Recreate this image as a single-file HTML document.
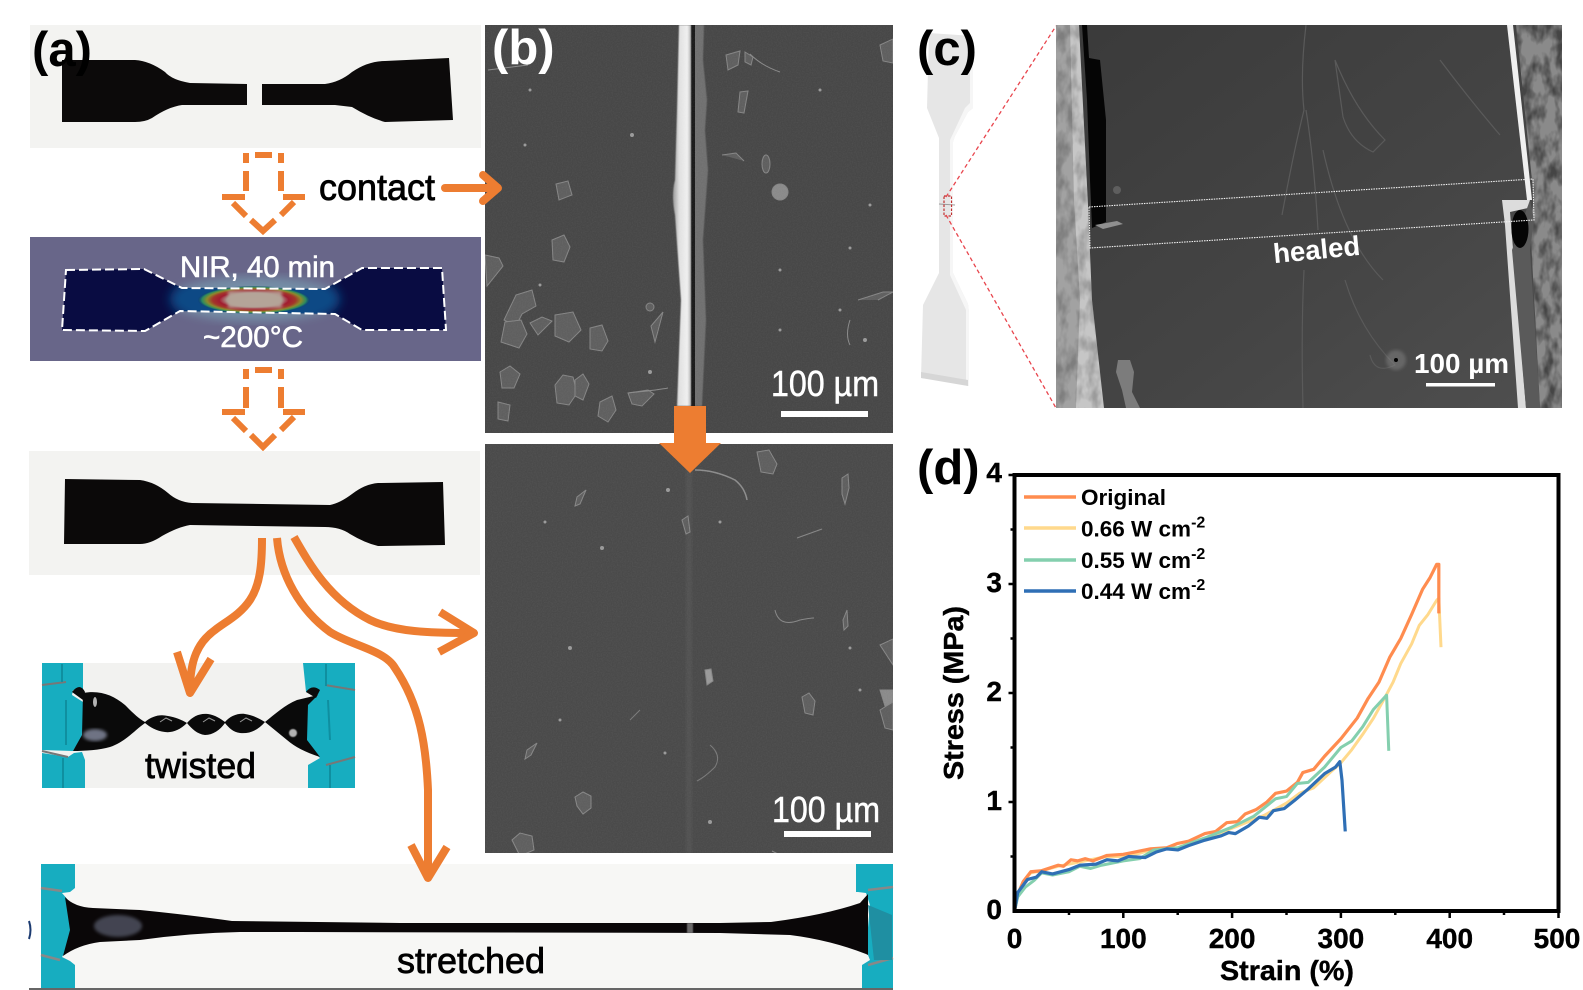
<!DOCTYPE html>
<html><head><meta charset="utf-8"><style>
html,body{margin:0;padding:0;background:#fff;width:1583px;height:990px;overflow:hidden}
svg{display:block}
text{font-family:"Liberation Sans",sans-serif}
</style></head><body>
<svg xmlns="http://www.w3.org/2000/svg" width="1583" height="990" viewBox="0 0 1583 990">
<defs>
<filter id="noise" x="0" y="0" width="100%" height="100%"><feTurbulence type="fractalNoise" baseFrequency="0.8" numOctaves="2" seed="4"/><feColorMatrix values="0 0 0 0 1  0 0 0 0 1  0 0 0 0 1  0.5 0 0 0 -0.17"/></filter>
<filter id="rough" x="0" y="0" width="100%" height="100%"><feTurbulence type="fractalNoise" baseFrequency="0.09 0.05" numOctaves="3" seed="9"/><feColorMatrix values="0 0 0 0 0  0 0 0 0 0  0 0 0 0 0  2.6 0 0 0 -1"/></filter>
<filter id="b1"><feGaussianBlur stdDeviation="0.5"/></filter>
<filter id="b2"><feGaussianBlur stdDeviation="1.5"/></filter>
<filter id="b5"><feGaussianBlur stdDeviation="5"/></filter>
<linearGradient id="strip" x1="0" x2="1" y1="0" y2="0"><stop offset="0" stop-color="#9a9a9a"/><stop offset=".35" stop-color="#e0e0e0"/><stop offset=".8" stop-color="#f0f0f0"/><stop offset="1" stop-color="#b0b0b0"/></linearGradient>
<linearGradient id="semc" x1="0" x2="1" y1="0" y2="1"><stop offset="0" stop-color="#3a3a3a"/><stop offset=".6" stop-color="#454545"/><stop offset="1" stop-color="#4f4f4f"/></linearGradient>
<radialGradient id="heat"><stop offset="0" stop-color="#b8a598"/><stop offset=".48" stop-color="#ad9a90"/><stop offset=".62" stop-color="#a21c30"/><stop offset=".74" stop-color="#a3352a"/><stop offset=".84" stop-color="#8c8a2c"/><stop offset=".93" stop-color="#2b8a60"/><stop offset="1" stop-color="#0b3a70" stop-opacity=".3"/></radialGradient>
<clipPath id="cb1"><rect x="485" y="25" width="408" height="408"/></clipPath>
<clipPath id="cb2"><rect x="485" y="444" width="408" height="409"/></clipPath>
<clipPath id="cc"><rect x="1056" y="25" width="506" height="383"/></clipPath>
<clipPath id="cheat"><rect x="30" y="237" width="451" height="124"/></clipPath>
<clipPath id="cls"><path d="M1056 25H1079L1088 205L1092 300L1104 408H1056Z"/></clipPath>
<clipPath id="crs"><path d="M1516 25H1562V408H1540L1530 220L1534 200Z"/></clipPath>
<clipPath id="cbody"><path d="M66 270L144 269L182 288L325 289L362 268L442 268L446 330L362 330L335 314L180 311L145 331L62 330Z"/></clipPath>
</defs>
<rect width="1583" height="990" fill="#fff"/>

<!-- a1 -->
<rect x="30" y="25" width="451" height="123" fill="#f3f3f1"/>
<path d="M62 60 L135 60 Q150 61 165 72 Q172 80 190 83 L247 84 L247 105 L182 105 Q168 107 152 118 Q145 122 135 122 L62 122 Z" fill="#0c0a0a"/>
<path d="M262 84 L325 84 Q340 82 352 72 Q368 61 385 61 L449 58 L453 120 L385 122 Q370 118 352 107 L335 105 L262 105 Z" fill="#0c0a0a"/>

<!-- dashed arrows -->
<g fill="none" stroke="#ed7d31" stroke-width="6">
<path d="M246 153V163M246 171V191M281 153V163M281 171V191M255 155H272"/>
<path d="M222 197H245M283 197H305M233 203L246 216M251 220L263 231L275 220M281 215L294 202"/>
<path d="M246 369V379M246 387V408M281 369V379M281 387V408M255 370H272"/>
<path d="M222 412H245M283 412H305M233 418L246 431M251 435L263 447L275 435M281 430L294 417"/>
</g>

<!-- contact -->
<text x="319" y="200" font-size="37" stroke="#000" stroke-width=".8" textLength="116" lengthAdjust="spacingAndGlyphs">contact</text>

<!-- heat -->
<rect x="30" y="237" width="451" height="124" fill="#686689"/>
<g clip-path="url(#cheat)">
<ellipse cx="255" cy="299" rx="85" ry="22" fill="#7fb0c0" opacity=".55" filter="url(#b5)"/>
<path d="M66 270L144 269L182 288L325 289L362 268L442 268L446 330L362 330L335 314L180 311L145 331L62 330Z" fill="#090c42"/>
<g clip-path="url(#cbody)"><ellipse cx="255" cy="299" rx="85" ry="30" fill="#0f4a85" filter="url(#b5)"/></g>
<ellipse cx="254" cy="300" rx="56" ry="14" fill="url(#heat)"/>
<rect x="228" y="291" width="54" height="17" fill="#b5a599" opacity=".9" filter="url(#b2)"/>
<path d="M66 270L144 269L182 288L325 289L362 268L442 268L446 330L362 330L335 314L180 311L145 331L62 330Z" fill="none" stroke="#fff" stroke-width="2" stroke-dasharray="9 4"/>
</g>
<text x="180" y="277" font-size="29.5" fill="#fff" stroke="#fff" stroke-width=".6" textLength="155" lengthAdjust="spacingAndGlyphs">NIR, 40 min</text>
<text x="203" y="347" font-size="29.5" fill="#fff" stroke="#fff" stroke-width=".6" textLength="100" lengthAdjust="spacingAndGlyphs">~200°C</text>

<!-- a3 -->
<rect x="29" y="451" width="451" height="124" fill="#f3f3f1"/>
<path d="M65 479 L140 480 Q155 482 168 493 Q178 502 192 503 L330 505 Q340 503 352 494 Q365 484 378 483 L443 482 L445 545 L378 546 Q365 543 350 534 Q340 527 325 527 L190 525 Q178 527 162 536 Q150 544 140 544 L64 544 Z" fill="#0b0909"/>

<!-- twisted -->
<rect x="42" y="663" width="313" height="125" fill="#f2f2f0"/>
<path d="M42 663H83V692L73 690L72 695L83 702V735L73 751L42 750Z" fill="#17adc0"/>
<path d="M42 753L68 757L74 753L82 752L85 760V788H42Z" fill="#17adc0"/>
<path d="M303 663H355V788H308V765L320 758L306 745L307 705L318 695L306 692Z" fill="#17adc0"/>
<path d="M42 685L66 682M42 751L68 757M355 690L325 685M355 757L326 765" stroke="#777" stroke-width="2"/>
<path d="M62 664V682M66 700V745M326 664V686M328 700L330 740M63 758V788M330 765V788" stroke="#0f8fa0" stroke-width="2" fill="none"/>
<path d="M72 692 Q80 682 85 692 L83 700Z M306 692 Q312 684 320 690L316 698Z" fill="#0b0b0b"/>
<path d="M83 693 C100 690 113 695 125 705 C133 713 138 718 145 722 C152 716 160 714 168 716 C175 717 182 720 187 723 C193 716 200 713 208 714 C215 715 221 719 225 722 C230 716 238 713 245 714 C253 715 260 719 265 722 C275 714 285 705 297 700 L318 695 L308 705 L307 740 L320 757 C305 752 295 747 287 740 L265 722 C258 730 250 734 240 733 C233 732 229 728 225 723 C220 730 213 735 205 735 C197 734 192 729 187 723 C180 730 172 733 165 732 C156 731 150 727 145 723 C135 730 125 742 110 747 C100 750 85 751 73 751 L82 735Z" fill="#0a0a0a"/>
<ellipse cx="95" cy="735" rx="12" ry="6" fill="#9aa0b8" opacity=".7" filter="url(#b2)"/>
<ellipse cx="95" cy="702" rx="2" ry="5" fill="#ddd" opacity=".8"/>
<ellipse cx="293" cy="733" rx="4" ry="4" fill="#ddd" opacity=".8" filter="url(#b1)"/>
<path d="M160 722l6-4 6 3M203 722l6-4 6 3M240 722l6-4 6 3" stroke="#999" fill="none"/>
<text x="145" y="778" font-size="36" stroke="#000" stroke-width=".8" textLength="111" lengthAdjust="spacingAndGlyphs">twisted</text>

<!-- stretched -->
<rect x="41" y="864" width="852" height="124" fill="#f7f7f5"/>
<path d="M41 864H75V888L70 892L62 893L68 900L72 920L70 945L62 957L70 961L75 965V988H41Z" fill="#17adc0"/>
<path d="M856 864H893V988H862V965L870 960L866 950L870 905L866 893L858 892H856Z" fill="#17adc0"/>
<path d="M41 888L62 891M41 955L60 960M893 887L868 890M893 958L868 965" stroke="#888" stroke-width="2.5"/>
<path d="M65 897 Q74 907 93 908 L140 910 Q190 915 232 921 L400 923 L720 923 L771 922 Q825 915 860 903 L868 894 L868 955 L866 954 Q830 940 790 935 L720 933 L300 932 L240 932 Q190 933 140 940 L100 942 Q78 945 63 956 L70 930Z" fill="#0a0708"/>
<ellipse cx="118" cy="926" rx="24" ry="11" fill="#7c829a" opacity=".5" filter="url(#b2)"/>
<rect x="687" y="923" width="6" height="10" fill="#aaa" opacity=".6" filter="url(#b1)"/>
<path d="M868 905L892 915V960H874Z" fill="#1f8fa2"/>
<text x="397" y="973" font-size="36" stroke="#000" stroke-width=".8" textLength="148" lengthAdjust="spacingAndGlyphs">stretched</text>
<rect x="29" y="988" width="864" height="2" fill="#666"/>
<path d="M29 921Q32 930 29 939" stroke="#1b3a70" stroke-width="2" fill="none"/>

<!-- curved arrows -->
<g fill="none" stroke="#ed7d31" stroke-width="8">
<path d="M262 538 C262 565 260 585 250 600 C240 615 225 622 215 630 C198 642 190 660 190 690"/>
<path d="M177 652L190 693L211 659" stroke-linejoin="round"/>
<path d="M277 538 C280 575 300 610 330 632 C350 645 385 650 395 668 C420 705 426 745 428 790 L428 875"/>
<path d="M411 845L428 878L447 847" stroke-linejoin="round"/>
<path d="M294 537 C310 565 330 600 370 620 C395 632 430 633 470 633"/>
<path d="M440 612L474 633L439 652" stroke-linejoin="round"/>
</g>

<!-- b1 -->
<rect x="485" y="25" width="408" height="408" fill="#474747"/>
<g clip-path="url(#cb1)">
<path d="M692 25 L704 25 L703 60 L707 100 L705 130 L708 170 L703 240 L706 320 L702 406 H692Z" fill="#707070" filter="url(#b1)"/>
<path d="M691 25H695V406H691Z" fill="#1a1a1a"/>
<path d="M679 25 H691 V406 H677 L681 300 L675 215 Q671 195 675 180 L677 110Z" fill="url(#strip)" filter="url(#b1)"/>
<g fill="#5f5f5f" stroke="#858585" stroke-width="1">
<path d="M726 55 L740 51 L738 65 L728 70Z"/><path d="M745 52l8 5 -2 8 -6-3z"/><path d="M740 92l8-1-4 22-6-1z"/>
<ellipse cx="766" cy="164" rx="4" ry="9"/><ellipse cx="780" cy="192" rx="8" ry="8" fill="#8a8a8a"/>
<path d="M880 45l13-6v24l-10-2z"/><path d="M556 184l12-3 4 14-13 5z"/><path d="M552 240l12-5 6 12-6 15-11-2z"/>
<path d="M485 255l14 3 4 8-16 20z"/><path d="M516 295l16-5 4 16-14 8-6 12-12-6z"/><path d="M505 322l16-2 6 14-8 14-18-6z"/><path d="M530 323l12-6 10 4-14 14z"/>
<path d="M555 315l18-3 8 18-12 12-14-6z"/><path d="M590 328l12-3 6 16-6 10-12-2z"/><ellipse cx="650" cy="307" rx="4" ry="4"/>
<path d="M655 342l8-30-12 14z"/><path d="M500 372l10-6 10 8-6 14h-12z"/><path d="M555 385l8-10 10 2 4 16-8 12-12-2z"/>
<path d="M575 380l8-6 6 10-6 16-8-4z"/><path d="M600 402l12-6 4 14-8 12-10-6z"/><path d="M498 402l12 3 -2 16-10-2z"/>
<path d="M628 393l20-3 6 4-12 12-10-2z"/><path d="M722 155l14-2 8 8"/><path d="M858 300l25-8 10 0-15 8"/>
</g>
<path d="M750 54q12 12 30 18M850 345q-5-10 0-25M488 70l40 -5M628 393q30-3 40-5" stroke="#8a8a8a" fill="none"/>
<g fill="#9a9a9a"><circle cx="632" cy="135" r="2"/><circle cx="525" cy="145" r="1.5"/><circle cx="850" cy="248" r="1.5"/><circle cx="780" cy="270" r="1.5"/><circle cx="840" cy="310" r="1.5"/><circle cx="865" cy="340" r="2"/><circle cx="820" cy="90" r="1.5"/><circle cx="530" cy="90" r="1.5"/><circle cx="650" cy="372" r="2"/><circle cx="780" cy="330" r="1.5"/><circle cx="870" cy="205" r="1.5"/><circle cx="540" cy="285" r="1.5"/></g>
</g>
<rect x="485" y="25" width="408" height="408" filter="url(#noise)" opacity=".18"/>
<text x="771" y="396" font-size="36" fill="#fff" stroke="#fff" stroke-width=".5" textLength="108" lengthAdjust="spacingAndGlyphs">100 µm</text>
<rect x="781" y="411" width="87" height="6" fill="#fff"/>

<!-- b2 -->
<rect x="485" y="444" width="408" height="409" fill="#4a4a4a"/>
<g clip-path="url(#cb2)">
<rect x="686" y="470" width="6" height="383" fill="#575757" filter="url(#b2)" opacity=".7"/>
<path d="M695 470 Q715 470 735 480 Q745 488 747 500" fill="none" stroke="#8c8c8c" stroke-width="1.5"/>
<g fill="#5f5f5f" stroke="#878787" stroke-width="1">
<path d="M757 452l12-2 8 14-4 10-12-2z"/><path d="M842 478l6-4 1 14-4 16-3-10z"/><path d="M682 520l6-4 2 16-4 2z"/>
<path d="M577 497l9-7-6 14-5 2z"/><path d="M797 538l25-9" fill="none"/><path d="M843 620l4-10 1 16-4 4z"/>
<path d="M705 670l6-1 2 12-6 4z" fill="#999"/><path d="M802 697l7-4 6 8-2 14-8-2z"/><path d="M880 645l13-6v26z"/><path d="M880 690h13v14l-8 2z" fill="#8a8a8a"/>
<path d="M880 710l13-8v28l-8-2z"/><path d="M527 750l10-7 -6 12-6 4z"/><path d="M575 797l8-5 8 4 0 12-8 6-6-8z"/><path d="M512 840l8-7 12 3 2 14-14 6z"/>
<path d="M780 855l-8-4"/><path d="M775 610q4 18 25 10q10-2 14-2" fill="none"/>
</g>
<g fill="#9a9a9a"><circle cx="668" cy="490" r="2"/><circle cx="545" cy="522" r="1.5"/><circle cx="602" cy="548" r="2"/><circle cx="570" cy="648" r="2"/><circle cx="720" cy="522" r="1.5"/><circle cx="850" cy="648" r="1.5"/><circle cx="860" cy="690" r="1.5"/><circle cx="665" cy="753" r="1.5"/><circle cx="710" cy="822" r="2"/><circle cx="560" cy="720" r="1.5"/></g>
<path d="M710 745q12 10 5 22q-10 10-18 14M640 710l-10 10" stroke="#7a7a7a" fill="none"/>
</g>
<rect x="485" y="444" width="408" height="409" filter="url(#noise)" opacity=".18"/>
<text x="772" y="822" font-size="36" fill="#fff" stroke="#fff" stroke-width=".5" textLength="108" lengthAdjust="spacingAndGlyphs">100 µm</text>
<rect x="784" y="831" width="87" height="6" fill="#fff"/>

<!-- big down arrow -->
<path d="M674 406H706V443H721L690 473L659 443H674Z" fill="#ed7d31"/>
<!-- contact arrow over panel -->
<path d="M445 188H488" stroke="#ed7d31" stroke-width="8" stroke-linecap="round"/>
<path d="M483 175L498 188L483 201" fill="none" stroke="#ed7d31" stroke-width="8" stroke-linecap="round" stroke-linejoin="round"/>

<!-- c specimen -->
<path d="M929 33L973 36L973 108L968 112L955 136L953 142L953 273L968 304L969 312L969 386L960 383L921 378L923 305L939 273L939 138L927 108Z" fill="#e6e6e6"/>
<path d="M973 36V108L968 112L955 136L953 142V273L968 304L969 312V386L966 385V310L950 275V140L965 108L970 103V36Z" fill="#f6f6f6"/>
<path d="M921 372L968 380V386L921 378Z" fill="#d6d6d6"/>
<path d="M939 204L955 205" stroke="#9a9a9a"/>
<rect x="944" y="196" width="7.5" height="20" fill="none" stroke="#c03030" stroke-width="1.2" stroke-dasharray="2.5 1.5"/>
<path d="M946 197L1056 26M946 215L1056 408" stroke="#e8454d" stroke-width="1.3" stroke-dasharray="4 3" fill="none"/>

<!-- c SEM -->
<rect x="1056" y="25" width="506" height="383" fill="url(#semc)"/>
<g clip-path="url(#cc)">
<path d="M1056 25H1079L1088 205L1092 300L1104 408H1056Z" fill="#c6c6c6"/>
<path d="M1056 25H1070L1074 200L1080 300L1076 408H1056Z" fill="#a2a2a2"/>
<g clip-path="url(#cls)"><rect x="1056" y="25" width="50" height="383" filter="url(#rough)" opacity=".22"/></g>
<path d="M1082 25L1087 25L1089 58L1100 60L1106 120L1106 222L1092 228L1090 180L1087 100Z" fill="#050505"/>
<path d="M1516 25H1562V408H1540L1530 220L1534 200Z" fill="#8a8a8a"/>
<g clip-path="url(#crs)"><rect x="1516" y="25" width="46" height="383" filter="url(#rough)" opacity=".5"/></g>
<path d="M1507 25L1513 25L1532 200H1527Z" fill="#f0f0f0"/>
<path d="M1502 200H1530L1528 208L1510 212L1526 408H1518L1505 225Z" fill="#dcdcdc"/>
<path d="M1530 200L1534 220L1530 250L1540 408H1526L1512 250Z" fill="#5a5a5a"/>
<ellipse cx="1520" cy="229" rx="8.5" ry="19" fill="#050505"/>
<path d="M1306 25q-6 50-2 85q-10 40-22 105M1306 110q8 50 12 120M1304 270q-3 60-1 138M1335 60q20 50 50 80l-12 12q-22-10-30-35zM1323 150q20 90 60 130M1345 280q15 50 50 85q-20 10-25-10M1440 60q30 40 60 75" stroke="#5a5a5a" fill="none" stroke-width="1.2"/>
<path d="M1095 225l22-4 6 3-20 5z" fill="#8f8f8f"/><circle cx="1117" cy="190" r="4" fill="#5e5e5e"/>
<path d="M1118 360l12 0 4 12 -2 20 8 16h-14l-4-18-6-18z" fill="#7c7c7c"/>
<circle cx="1396" cy="360" r="10" fill="#8a8a8a" opacity=".45" filter="url(#b2)"/><circle cx="1396" cy="360" r="2" fill="#000"/>
</g>
<path d="M1089 207L1533 179L1534 220L1090 248Z" fill="none" stroke="#f2f2f2" stroke-width="1.1" stroke-dasharray="1.5 1"/>
<text x="1273" y="259" font-size="27.5" font-weight="700" fill="#fff" transform="rotate(-5.5 1317 250)">healed</text>
<text x="1414" y="373" font-size="28" font-weight="700" fill="#fff" textLength="95" lengthAdjust="spacingAndGlyphs">100 µm</text>
<rect x="1426" y="383" width="69" height="3.5" fill="#fff"/>

<!-- chart -->
<g fill="none" stroke-linejoin="round" transform="translate(1014.5 911) scale(1.088 -109)">
<path vector-effect="non-scaling-stroke" stroke="#ffd98c" stroke-width="3" d="M0 0L3 .16L8 .27L15 .35L25 .37L40 .41L55 .44L70 .47L85 .5L100 .5L115 .53L128 .57L150 .58L170 .65L190 .72L210 .8L230 .88L250 .99L262 1.08L275 1.13L290 1.27L300 1.36L310 1.48L320 1.62L330 1.77L340 1.95L348 2.1L355 2.27L365 2.45L372 2.62L380 2.72L388 2.85L390 2.87L392 2.42"/>
<path vector-effect="non-scaling-stroke" stroke="#ff8c4f" stroke-width="3.2" d="M0 0L3 .15L8 .27L15 .36L25 .37L40 .42L45 .41L52 .47L58 .46L65 .48L72 .46L85 .51L100 .52L110 .54L125 .57L140 .58L150 .62L160 .64L175 .71L185 .73L195 .81L205 .82L212 .89L222 .93L232 1L240 1.08L250 1.1L260 1.18L265 1.27L275 1.3L285 1.42L300 1.58L315 1.77L325 1.95L335 2.1L345 2.33L355 2.5L365 2.72L375 2.95L382 3.06L388 3.18L390 3.18L390 2.73"/>
<path vector-effect="non-scaling-stroke" stroke="#84cfae" stroke-width="3" d="M0 0L3 .13L10 .22L18 .28L25 .35L35 .33L50 .36L60 .41L70 .39L80 .42L100 .46L115 .48L128 .56L150 .58L175 .67L200 .77L220 .87L240 1.03L250 1.05L260 1.17L270 1.18L285 1.32L300 1.5L310 1.56L320 1.69L330 1.85L342 1.98L344 1.47"/>
<path vector-effect="non-scaling-stroke" stroke="#2f6fb5" stroke-width="3.2" d="M0 0L3 .17L12 .29L20 .31L25 .36L35 .34L50 .38L60 .42L75 .43L85 .47L95 .46L105 .5L120 .49L130 .54L140 .57L150 .56L160 .6L175 .65L190 .69L197 .72L203 .71L215 .78L225 .86L232 .85L238 .92L248 .94L258 1.02L270 1.12L285 1.26L295 1.32L299 1.37L301 1.2L304 .73"/>
</g>
<g stroke="#000" stroke-width="4" fill="none">
<rect x="1014.5" y="475" width="544" height="436"/>
<path d="M1123.3 911v7M1232.1 911v7M1340.9 911v7M1449.7 911v7M1558.5 911v7M1069 911v4M1177.7 911v4M1286.5 911v4M1395.3 911v4M1504 911v4M1014.5 475h-6M1014.5 584h-6M1014.5 693h-6M1014.5 802h-6M1014.5 529.5h-4M1014.5 638.5h-4M1014.5 747.5h-4M1014.5 856.5h-4" stroke-width="2.5"/>
</g>
<g font-size="28" font-weight="700" text-anchor="middle" stroke="#000" stroke-width=".4">
<text x="1014.5" y="948">0</text><text x="1123.3" y="948">100</text><text x="1232.1" y="948">200</text><text x="1340.9" y="948">300</text><text x="1449.7" y="948">400</text><text x="1557" y="948">500</text>
</g>
<g font-size="28" font-weight="700" text-anchor="end" stroke="#000" stroke-width=".4">
<text x="1002" y="482">4</text><text x="1002" y="592">3</text><text x="1002" y="701">2</text><text x="1002" y="810">1</text><text x="1002" y="919">0</text>
</g>
<text x="1220" y="980" font-size="28" font-weight="700" stroke="#000" stroke-width=".4" textLength="134" lengthAdjust="spacingAndGlyphs">Strain (%)</text>
<text transform="translate(963 780) rotate(-90)" font-size="28" font-weight="700" stroke="#000" stroke-width=".4" textLength="174" lengthAdjust="spacingAndGlyphs">Stress (MPa)</text>
<g stroke-width="3.5">
<path d="M1024 497H1076" stroke="#ff8c4f"/><path d="M1024 528H1076" stroke="#ffd98c"/><path d="M1024 560H1076" stroke="#84cfae"/><path d="M1024 591H1076" stroke="#2f6fb5"/>
</g>
<g font-size="22.5" font-weight="700">
<text x="1081" y="505">Original</text>
<text x="1081" y="536.5">0.66 W cm<tspan font-size="16" dy="-9">-2</tspan></text>
<text x="1081" y="568">0.55 W cm<tspan font-size="16" dy="-9">-2</tspan></text>
<text x="1081" y="599">0.44 W cm<tspan font-size="16" dy="-9">-2</tspan></text>
</g>

<!-- panel labels -->
<g font-size="49" font-weight="700">
<text x="32" y="66">(a)</text>
<text x="492" y="64" fill="#fff">(b)</text>
<text x="917" y="65">(c)</text>
<text x="917" y="484">(d)</text>
</g>
</svg>
</body></html>
